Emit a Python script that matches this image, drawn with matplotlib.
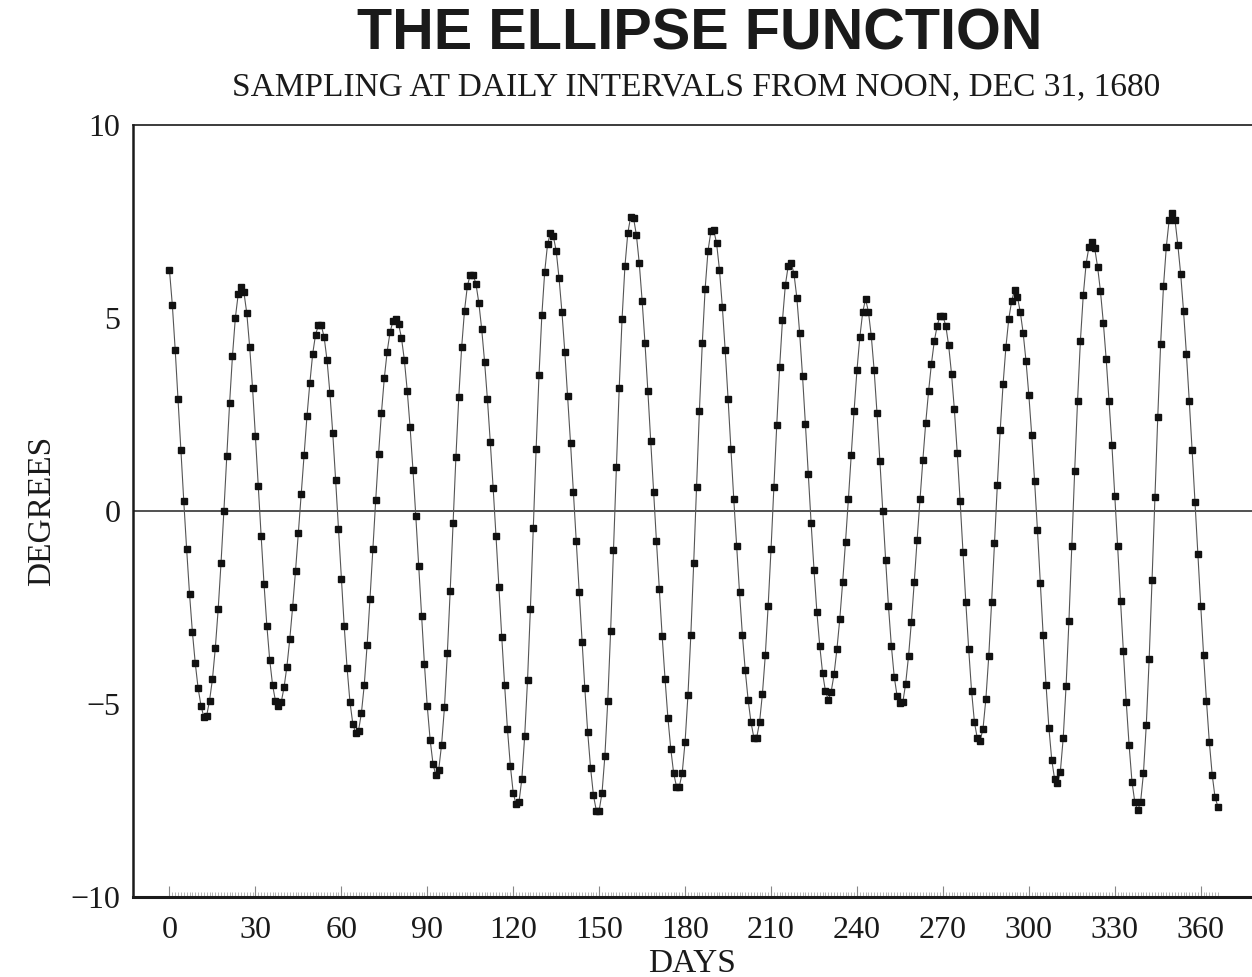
import numpy as np
import matplotlib
matplotlib.use("Agg")
import matplotlib.pyplot as plt
from matplotlib.ticker import FixedLocator

# Daily samples of the ellipse function (degrees), day 0 = noon Dec 31, 1680
degrees = [
    6.24, 5.34, 4.18, 2.89, 1.57, 0.25, -0.99, -2.14, -3.13, -3.94,
    -4.59, -5.04, -5.34, -5.30, -4.91, -4.36, -3.56, -2.55, -1.35, 0.00,
    1.42, 2.80, 4.02, 5.00, 5.62, 5.81, 5.66, 5.12, 4.25, 3.19,
    1.94, 0.64, -0.64, -1.88, -2.97, -3.86, -4.51, -4.92, -5.04, -4.96,
    -4.57, -4.03, -3.32, -2.49, -1.56, -0.56, 0.43, 1.46, 2.45, 3.31,
    4.07, 4.57, 4.81, 4.81, 4.50, 3.91, 3.06, 2.02, 0.81, -0.46,
    -1.77, -2.98, -4.06, -4.94, -5.51, -5.75, -5.69, -5.24, -4.51, -3.47,
    -2.28, -0.99, 0.28, 1.48, 2.54, 3.44, 4.13, 4.63, 4.91, 4.97,
    4.84, 4.48, 3.91, 3.12, 2.17, 1.07, -0.14, -1.42, -2.72, -3.96,
    -5.06, -5.93, -6.55, -6.85, -6.70, -6.05, -5.09, -3.69, -2.07, -0.31,
    1.40, 2.95, 4.24, 5.19, 5.83, 6.12, 6.12, 5.88, 5.39, 4.71,
    3.87, 2.89, 1.78, 0.59, -0.66, -1.97, -3.26, -4.51, -5.66, -6.60,
    -7.30, -7.60, -7.55, -6.95, -5.84, -4.38, -2.53, -0.43, 1.61, 3.51,
    5.08, 6.20, 6.92, 7.20, 7.12, 6.74, 6.03, 5.16, 4.13, 2.97,
    1.77, 0.49, -0.78, -2.09, -3.39, -4.59, -5.73, -6.65, -7.36, -7.76,
    -7.76, -7.30, -6.35, -4.93, -3.12, -1.02, 1.14, 3.18, 4.98, 6.34,
    7.20, 7.62, 7.59, 7.15, 6.42, 5.45, 4.35, 3.11, 1.80, 0.50,
    -0.78, -2.03, -3.25, -4.35, -5.36, -6.16, -6.79, -7.14, -7.14, -6.78,
    -5.98, -4.77, -3.22, -1.36, 0.63, 2.60, 4.34, 5.76, 6.74, 7.24,
    7.28, 6.93, 6.25, 5.29, 4.16, 2.91, 1.61, 0.30, -0.91, -2.11,
    -3.21, -4.13, -4.89, -5.47, -5.87, -5.87, -5.47, -4.73, -3.74, -2.45,
    -0.99, 0.63, 2.23, 3.72, 4.95, 5.85, 6.35, 6.43, 6.15, 5.53,
    4.60, 3.49, 2.25, 0.96, -0.32, -1.52, -2.61, -3.49, -4.20, -4.67,
    -4.89, -4.68, -4.23, -3.58, -2.80, -1.85, -0.80, 0.30, 1.45, 2.60,
    3.65, 4.50, 5.15, 5.49, 5.16, 4.53, 3.64, 2.53, 1.29, 0.00,
    -1.26, -2.47, -3.49, -4.29, -4.79, -4.98, -4.96, -4.47, -3.76, -2.87,
    -1.84, -0.74, 0.30, 1.32, 2.28, 3.10, 3.82, 4.40, 4.80, 5.05,
    5.05, 4.80, 4.29, 3.56, 2.63, 1.51, 0.27, -1.05, -2.37, -3.58,
    -4.66, -5.47, -5.89, -5.95, -5.64, -4.87, -3.77, -2.36, -0.84, 0.67,
    2.09, 3.28, 4.25, 4.98, 5.44, 5.72, 5.55, 5.16, 4.62, 3.89,
    3.00, 1.97, 0.78, -0.49, -1.87, -3.22, -4.50, -5.62, -6.45, -6.95,
    -7.05, -6.75, -5.88, -4.53, -2.84, -0.90, 1.04, 2.85, 4.41, 5.59,
    6.41, 6.85, 6.97, 6.80, 6.32, 5.69, 4.88, 3.93, 2.84, 1.70,
    0.40, -0.92, -2.32, -3.64, -4.95, -6.07, -7.01, -7.55, -7.75, -7.55,
    -6.80, -5.54, -3.84, -1.80, 0.35, 2.43, 4.32, 5.82, 6.85, 7.55,
    7.72, 7.55, 6.90, 6.14, 5.18, 4.07, 2.85, 1.57, 0.22, -1.12,
    -2.45, -3.73, -4.92, -5.98, -6.83, -7.42, -7.66,
]
days = np.arange(len(degrees))

x_ticks = [0, 30, 60, 90, 120, 150, 180, 210, 240, 270, 300, 330, 360]
y_ticks = [-10, -5, 0, 5, 10]

SERIF = "Liberation Serif"
SANS = "Liberation Sans"
INK = "#1a1a1a"

fig = plt.figure(figsize=(12.52, 9.77), dpi=100)
ax = fig.add_axes([0.1062, 0.0819, 0.8938, 0.7902])

ax.plot(days, degrees, color="#555555", linewidth=0.8, zorder=2)
ax.plot(days, degrees, linestyle="none", marker="s", markersize=4.6,
        color="#111111", zorder=3)
ax.axhline(0, color="#333333", linewidth=1.2, zorder=1)

ax.set_xlim(-12.74, 377.9)
ax.set_ylim(-10, 10)

# day hatching along the bottom, taller marks every 30 days
ax.xaxis.set_major_locator(FixedLocator(x_ticks))
ax.xaxis.set_minor_locator(FixedLocator(days))
ax.yaxis.set_major_locator(FixedLocator(y_ticks))
ax.tick_params(axis="x", which="major", direction="in", length=8, width=0.8,
               color="#888888", pad=14, labelsize=23, labelcolor=INK)
ax.tick_params(axis="x", which="minor", direction="in", length=3.5, width=0.5,
               color="#999999")
ax.tick_params(axis="y", which="major", length=0, pad=9, labelsize=23,
               labelcolor=INK)
for lbl in ax.get_xticklabels() + ax.get_yticklabels():
    lbl.set_family(SERIF)

ax.spines["right"].set_visible(False)
for side in ("left", "bottom", "top"):
    ax.spines[side].set_color(INK)
ax.spines["left"].set_linewidth(1.8)
ax.spines["bottom"].set_linewidth(2.2)
ax.spines["top"].set_linewidth(1.2)

ax.set_xlabel("DAYS", family=SERIF, fontsize=24, color=INK, labelpad=2)
ax.set_ylabel("DEGREES", family=SERIF, fontsize=24, color=INK, labelpad=10)

fig.text(0.559, 0.965, "THE ELLIPSE FUNCTION", family=SANS, fontsize=41.5,
         fontweight="bold", color=INK, ha="center", va="center")
fig.text(0.556, 0.911, "SAMPLING AT DAILY INTERVALS FROM NOON, DEC 31, 1680",
         family=SERIF, fontsize=24, color=INK, ha="center", va="center")

fig.savefig("out.png", dpi=100, facecolor="white")
